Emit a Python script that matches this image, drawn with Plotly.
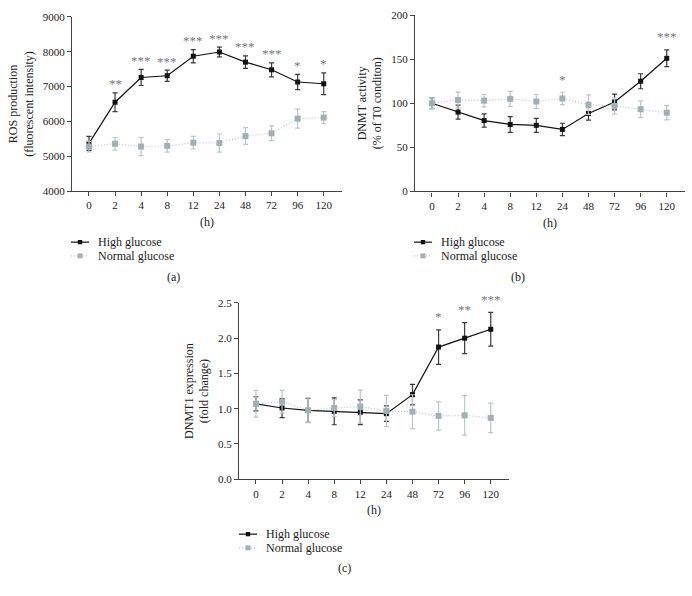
import plotly.graph_objects as go

hours = ["0", "2", "4", "8", "12", "24", "48", "72", "96", "120"]

# (a) ROS production
ros_high = [5370, 6550, 7260, 7310, 7870, 7990, 7700, 7480, 7130, 7080]
ros_high_err = [200, 270, 230, 160, 190, 140, 180, 200, 220, 310]
ros_norm = [5280, 5360, 5280, 5300, 5390, 5380, 5580, 5660, 6080, 6110]
ros_norm_err = [150, 180, 260, 180, 180, 260, 240, 210, 270, 170]
ros_stars = ["", "**", "***", "***", "***", "***", "***", "***", "*", "*"]

# (b) DNMT activity
act_high = [100, 90, 80.4, 76, 75, 70.4, 88.5, 101.5, 125, 151]
act_high_err = [6, 8, 7.5, 9, 8, 7, 7.5, 9, 8.5, 9.5]
act_norm = [100, 103.7, 103, 105, 102, 105.5, 98.5, 97, 93.3, 89.3]
act_norm_err = [6, 9, 7, 8.5, 8, 7, 11, 9, 9.5, 8]
act_stars = ["", "", "", "", "", "*", "", "", "", "***"]

# (c) DNMT1 expression
exp_high = [1.07, 1.01, 0.977, 0.963, 0.95, 0.93, 1.2, 1.874, 2.0, 2.126]
exp_high_err = [0.1, 0.135, 0.17, 0.19, 0.175, 0.11, 0.145, 0.245, 0.22, 0.24]
exp_norm = [1.07, 1.10, 0.977, 1.01, 1.03, 0.97, 0.958, 0.898, 0.907, 0.87]
exp_norm_err = [0.19, 0.16, 0.175, 0.12, 0.235, 0.22, 0.24, 0.2, 0.28, 0.21]
exp_stars = ["", "", "", "", "", "", "", "*", "**", "***"]

series_names = ["High glucose", "Normal glucose"]

W, H = 692, 596
FONT = "Liberation Serif"
BLACK = "#111111"
HI_ERR = "#3a3a3a"
NORM = "#a3afb3"
NORM_ERR = "#bcc6c9"
STAR = "#777777"
TXT = "#222222"
DOT = "1px,2px"


def px_x(p):
    return p / W


def px_y(p):
    return 1 - p / H


panels = [
    dict(key="", xd=(72, 342), yd=(11, 189), yr=[4000, 9000], dt=1000, tf=None,
         hi=ros_high, hie=ros_high_err, no=ros_norm, noe=ros_norm_err, stars=ros_stars,
         title="ROS production<br>(fluorescent intensity)", leg=(71, 241), lab="(a)", labpos=(173, 277),
         shift=9),
    dict(key="2", xd=(415, 685), yd=(9.3, 189.3), yr=[0, 200], dt=50, tf=None,
         hi=act_high, hie=act_high_err, no=act_norm, noe=act_norm_err, stars=act_stars,
         title="DNMT activity<br>(% of T0 conditon)", leg=(414, 241), lab="(b)", labpos=(518, 277),
         shift=13),
    dict(key="3", xd=(239, 509), yd=(303, 483), yr=[0, 2.5], dt=0.5, tf=".1f",
         hi=exp_high, hie=exp_high_err, no=exp_norm, noe=exp_norm_err, stars=exp_stars,
         title="DNMT1 expression<br>(fold change)", leg=(239, 539), lab="(c)", labpos=(344, 574),
         shift=13),
]

fig = go.Figure()
annotations = []
shapes = []
layout = {}

for p in panels:
    k = p["key"]
    xa = "x" + k
    ya = "y" + k
    fig.add_trace(go.Scatter(
        x=hours, y=p["hi"], xaxis=xa, yaxis=ya, name=series_names[0],
        mode="lines+markers", line=dict(color=BLACK, width=1.2),
        marker=dict(symbol="square", size=5, color=BLACK),
        error_y=dict(type="data", array=p["hie"], color=HI_ERR, thickness=1.2, width=2.5),
        cliponaxis=False, showlegend=False,
    ))
    fig.add_trace(go.Scatter(
        x=hours, y=p["no"], xaxis=xa, yaxis=ya, name=series_names[1],
        mode="lines+markers", line=dict(color=NORM_ERR, width=1.2, dash=DOT),
        marker=dict(symbol="square", size=6, color=NORM),
        error_y=dict(type="data", array=p["noe"], color=NORM_ERR, thickness=1.2, width=2.5),
        cliponaxis=False, showlegend=False,
    ))
    xname = "xaxis" + k
    yname = "yaxis" + k
    layout[xname] = dict(
        domain=[px_x(p["xd"][0]), px_x(p["xd"][1])], anchor=ya,
        type="category", range=[-0.65, 9.7],
        showline=True, linecolor="#444444", linewidth=1.2,
        ticks="outside", ticklen=4, tickcolor="#444444", tickwidth=1,
        showgrid=False, zeroline=False,
        tickfont=dict(family=FONT, size=11, color=TXT),
        title=dict(text="(h)", font=dict(family=FONT, size=12, color=TXT), standoff=7),
    )
    layout[yname] = dict(
        domain=[px_y(p["yd"][1]), px_y(p["yd"][0])], anchor=xa,
        range=p["yr"], dtick=p["dt"], tickformat=p["tf"],
        showline=True, linecolor="#444444", linewidth=1.2,
        ticks="outside", ticklen=4, tickcolor="#444444", tickwidth=1,
        showgrid=False, zeroline=False,
        tickfont=dict(family=FONT, size=11, color=TXT),
        title=dict(text=p["title"], font=dict(family=FONT, size=12, color=TXT), standoff=6),
    )
    # star annotations
    for i, s in enumerate(p["stars"]):
        if s:
            top = max(p["hi"][i] + p["hie"][i], p["no"][i] + p["noe"][i])
            annotations.append(dict(
                x=i, y=top, xref=xa, yref=ya, text=s, showarrow=False,
                yanchor="middle", yshift=p["shift"],
                font=dict(family=FONT, size=13, color=STAR),
            ))
    # panel label
    annotations.append(dict(
        x=px_x(p["labpos"][0]), y=px_y(p["labpos"][1]), xref="paper", yref="paper",
        text=p["lab"], showarrow=False, xanchor="center", yanchor="middle",
        font=dict(family=FONT, size=12, color=TXT),
    ))
    # compact legend (key glyphs + labels)
    lx, ly = p["leg"]
    for j, (nm, col, mcol, dash, msz) in enumerate([
        (series_names[0], BLACK, BLACK, "solid", 2.2),
        (series_names[1], NORM_ERR, NORM, DOT, 2.5),
    ]):
        yy = ly + 14 * j
        shapes.append(dict(type="line", xref="paper", yref="paper",
                           x0=px_x(lx), x1=px_x(lx + 18), y0=px_y(yy), y1=px_y(yy),
                           line=dict(color=col, width=1.2, dash=dash)))
        shapes.append(dict(type="rect", xref="paper", yref="paper",
                           x0=px_x(lx + 9 - msz), x1=px_x(lx + 9 + msz),
                           y0=px_y(yy + msz), y1=px_y(yy - msz),
                           line=dict(width=0), fillcolor=mcol))
        annotations.append(dict(
            x=px_x(lx + 25), y=px_y(yy), xref="paper", yref="paper", text=nm,
            showarrow=False, xanchor="left", yanchor="middle",
            font=dict(family=FONT, size=12, color=TXT),
        ))

fig.update_layout(
    width=W, height=H, margin=dict(l=0, r=0, t=0, b=0),
    paper_bgcolor="white", plot_bgcolor="white",
    annotations=annotations, shapes=shapes, showlegend=False,
    **layout,
)

fig.write_html(
    "out.html",
    config={"displayModeBar": False},
    post_script="document.body.style.margin='0';document.body.style.overflow='hidden';",
)
